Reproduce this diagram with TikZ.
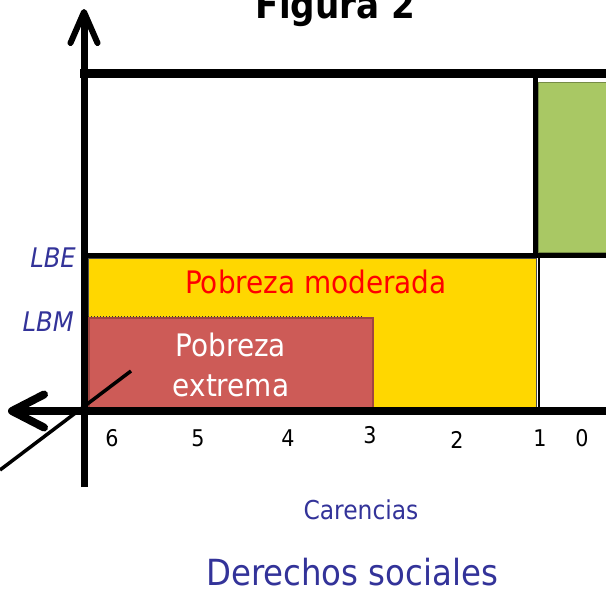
\documentclass[tikz,border=0pt]{standalone}
\usepackage{fontspec}
\setmainfont{DejaVu Sans Condensed}
\usepackage{xcolor}
\usetikzlibrary{arrows.meta}
\definecolor{txtblue}{HTML}{333399}
\definecolor{modyellow}{HTML}{FFD700}
\definecolor{extred}{HTML}{CD5B57}
\definecolor{extborder}{HTML}{A04542}
\definecolor{okgreen}{HTML}{A9C864}
\begin{document}
\begin{tikzpicture}[%
    x=1pt, y=-1pt,               % pixel grid, y going down
    >={Straight Barb[round]},
    ]
% -------------------------------------------------
% Styles
\tikzset{
axis/.style={draw, black, line cap=round},
limit/.style={font=\fontsize{27}{30}\selectfont\itshape, text=txtblue, anchor=east, inner sep=0pt},
tick/.style={font=\fontsize{23}{26}\selectfont, inner sep=0pt},
boxtext/.style={font=\fontsize{31}{40}\selectfont, align=center, inner sep=0pt},
axlabel/.style={text=txtblue, inner sep=0pt},
}
\useasboundingbox (0,0) rectangle (606,589);
% -------------------------------------------------
% Coloured areas
\fill[okgreen, draw=okgreen!70!black, line width=0.8pt] (538,82) rectangle (606,252);
\fill[modyellow, draw=black!70, line width=1pt] (88,258) rectangle (536,407);
\draw[dotted, black!80, line width=1pt] (88,316) -- (363,316);
\fill[extred, draw=extborder, line width=1.2pt] (89,318) rectangle (373,408);

% Grid lines
\draw[line width=9pt] (80,73.5) -- (606,73.5);
\draw[line width=5pt] (84,255.5) -- (606,255.5);
\draw[line width=5pt] (535.5,73) -- (535.5,255);
\draw[line width=2.5pt] (539,255) -- (539,411);

% Axes
\coordinate (ytop) at (84,9);
\coordinate (ybot) at (84,487);
\coordinate (xleft) at (8,411);
\coordinate (xright) at (606,411);
\draw[axis, line cap=butt, line width=7pt, -{Straight Barb[round, length=31pt, width=27pt, line width=6pt]}] (ybot) -- (ytop);
\draw[axis, line cap=butt, line width=8pt, -{Straight Barb[round, length=32pt, width=33pt, line width=8pt]}] (xright) -- (xleft);
\coordinate (dgA) at (0,470);
\coordinate (dgB) at (131,371);
\draw[line width=3.5pt] (dgA) -- (dgB);

% -------------------------------------------------
% Texts
\node[font=\fontsize{38}{40}\selectfont\bfseries, anchor=base] (title) at (335.5,18) {Figura 2};
\node[limit] (lbe) at (76,258) {LBE};
\node[limit] (lbm) at (74,322) {LBM};
\node[boxtext, text=red] (moderada) at (316,282) {Pobreza moderada};
\node[boxtext, text=white] (extrema) at (231,365) {Pobreza\\extrema};

\foreach \n/\x/\y in {6/112/438, 5/198/438, 4/288/438, 3/370/435, 2/457/440, 1/540/438, 0/582/438}
    \node[tick] (tick\n) at (\x,\y) {\n};

\node[axlabel, font=\fontsize{26}{30}\selectfont] (carencias) at (361,510) {Carencias};
\node[axlabel, font=\fontsize{36}{40}\selectfont] (derechos) at (352,572) {Derechos sociales};

\end{tikzpicture}
\end{document}
